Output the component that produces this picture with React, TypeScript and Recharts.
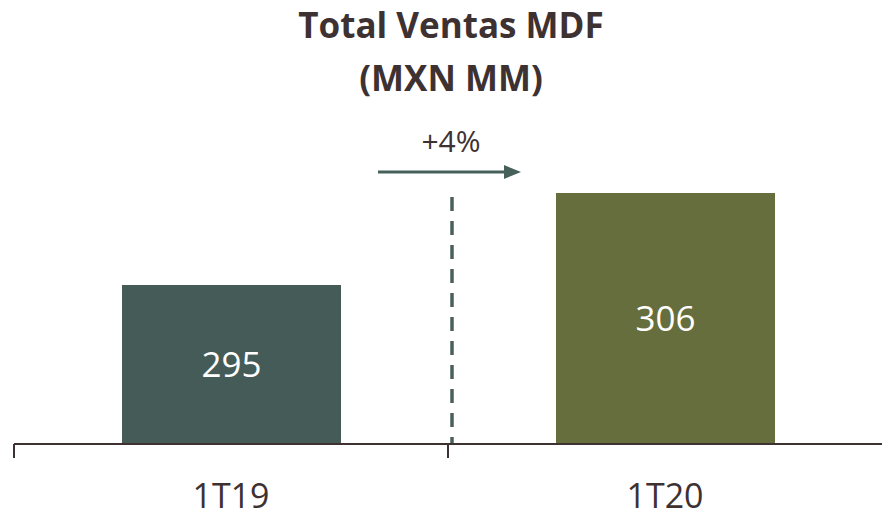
import React from "react";
import { BarChart, Bar, XAxis, YAxis, Cell, LabelList, Customized } from "recharts";

const categories = ["1T19", "1T20"];
const values = [295, 306];
const barColors = ["#445B57", "#676E3D"];
const titleLines = ["Total Ventas MDF", "(MXN MM)"];
const growthLabel = "+4%";

const data = categories.map((c, i) => ({ name: c, value: values[i] }));

const FONT = "'Open Sans', 'Liberation Sans', sans-serif";
const TEXT = "#3E3131";

const Tick = (props: any) => {
  const { x, y, payload } = props;
  const off = payload?.offset ?? 0;
  return (
    <g>
      <line x1={x - off} y1={y - 8} x2={x - off} y2={y + 6} stroke={TEXT} strokeWidth={2} />
      <text x={x} y={y + 56} textAnchor="middle" fontFamily={FONT} fontSize={34} fill={TEXT}>
        {payload.value}
      </text>
    </g>
  );
};

const Annotation = () => (
  <g>
    <text x={451} y={38} textAnchor="middle" fontFamily={FONT} fontWeight={700} fontSize={35} fill={TEXT}>
      {titleLines[0]}
    </text>
    <text x={451} y={91} textAnchor="middle" fontFamily={FONT} fontWeight={700} fontSize={35} fill={TEXT}>
      {titleLines[1]}
    </text>
    <text x={451} y={152} textAnchor="middle" fontFamily={FONT} fontSize={30} fill={TEXT}>
      {growthLabel}
    </text>
    <line x1={378} y1={172} x2={506} y2={172} stroke="#46605A" strokeWidth={3} />
    <polygon points="504,165 521,172 504,179" fill="#46605A" />
    <line x1={452} y1={197} x2={452} y2={443} stroke="#4A605C" strokeWidth={3.5} strokeDasharray="14 10" />
  </g>
);

export default function App() {
  return (
    <div style={{ position: "absolute", left: 0, top: 0, width: 882, height: 519, background: "#fff" }}>
      <BarChart
        width={882}
        height={519}
        data={data}
        margin={{ top: 76, right: 0, bottom: 0, left: 14 }}
        barCategoryGap={0}
      >
        <YAxis hide domain={[276, 320]} type="number" allowDataOverflow />
        <XAxis
          dataKey="name"
          height={75}
          axisLine={{ stroke: TEXT, strokeWidth: 2 }}
          tickLine={false}
          tick={<Tick />}
          interval={0}
        />
        <Bar dataKey="value" barSize={219} isAnimationActive={false}>
          {data.map((d, i) => (
            <Cell key={d.name} fill={barColors[i]} />
          ))}
          <LabelList dataKey="value" position="center" fill="#FFFFFF" fontFamily={FONT} fontSize={35} />
        </Bar>
        <Customized component={Annotation} />
      </BarChart>
    </div>
  );
}
